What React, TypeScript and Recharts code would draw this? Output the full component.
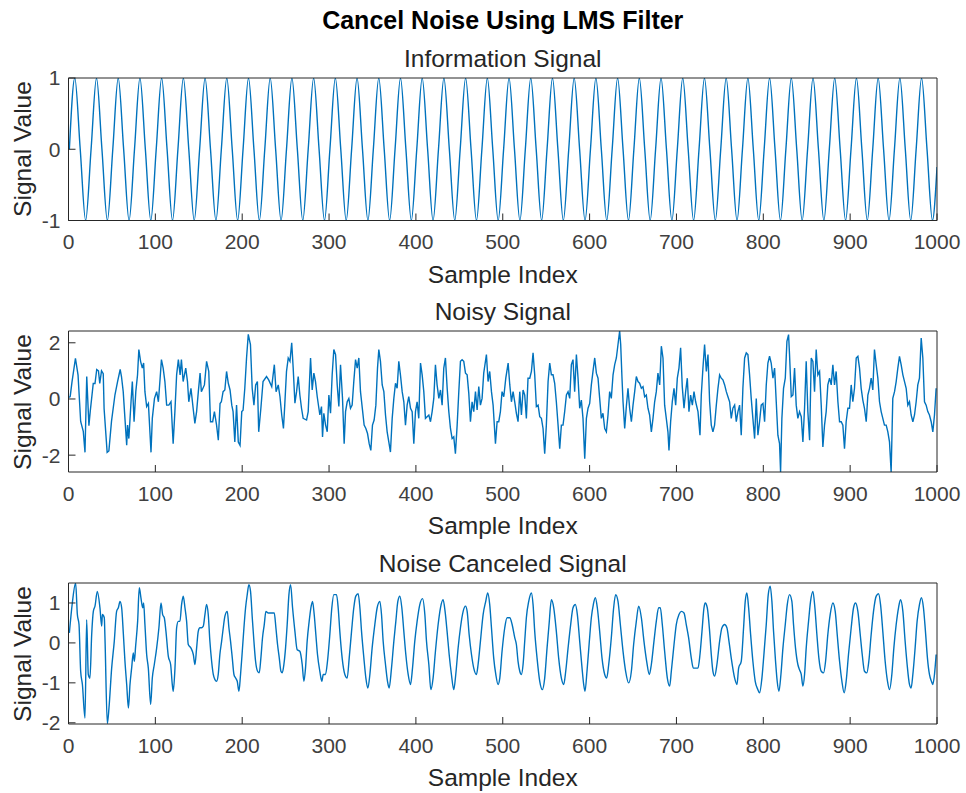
import { LineChart, Line, XAxis, YAxis } from 'recharts';

// sample index vs value
const infoSignal: [number, number][] = [
  [1, 0], [7.25, 1], [13.5, 0], [19.75, -1],
  [26, 0], [32.25, 1], [38.5, 0], [44.75, -1],
  [51, 0], [57.25, 1], [63.5, 0], [69.75, -1],
  [76, 0], [82.25, 1], [88.5, 0], [94.75, -1],
  [101, 0], [107.25, 1], [113.5, 0], [119.75, -1],
  [126, 0], [132.25, 1], [138.5, 0], [144.75, -1],
  [151, 0], [157.25, 1], [163.5, 0], [169.75, -1],
  [176, 0], [182.25, 1], [188.5, 0], [194.75, -1],
  [201, 0], [207.25, 1], [213.5, 0], [219.75, -1],
  [226, 0], [232.25, 1], [238.5, 0], [244.75, -1],
  [251, 0], [257.25, 1], [263.5, 0], [269.75, -1],
  [276, 0], [282.25, 1], [288.5, 0], [294.75, -1],
  [301, 0], [307.25, 1], [313.5, 0], [319.75, -1],
  [326, 0], [332.25, 1], [338.5, 0], [344.75, -1],
  [351, 0], [357.25, 1], [363.5, 0], [369.75, -1],
  [376, 0], [382.25, 1], [388.5, 0], [394.75, -1],
  [401, 0], [407.25, 1], [413.5, 0], [419.75, -1],
  [426, 0], [432.25, 1], [438.5, 0], [444.75, -1],
  [451, 0], [457.25, 1], [463.5, 0], [469.75, -1],
  [476, 0], [482.25, 1], [488.5, 0], [494.75, -1],
  [501, 0], [507.25, 1], [513.5, 0], [519.75, -1],
  [526, 0], [532.25, 1], [538.5, 0], [544.75, -1],
  [551, 0], [557.25, 1], [563.5, 0], [569.75, -1],
  [576, 0], [582.25, 1], [588.5, 0], [594.75, -1],
  [601, 0], [607.25, 1], [613.5, 0], [619.75, -1],
  [626, 0], [632.25, 1], [638.5, 0], [644.75, -1],
  [651, 0], [657.25, 1], [663.5, 0], [669.75, -1],
  [676, 0], [682.25, 1], [688.5, 0], [694.75, -1],
  [701, 0], [707.25, 1], [713.5, 0], [719.75, -1],
  [726, 0], [732.25, 1], [738.5, 0], [744.75, -1],
  [751, 0], [757.25, 1], [763.5, 0], [769.75, -1],
  [776, 0], [782.25, 1], [788.5, 0], [794.75, -1],
  [801, 0], [807.25, 1], [813.5, 0], [819.75, -1],
  [826, 0], [832.25, 1], [838.5, 0], [844.75, -1],
  [851, 0], [857.25, 1], [863.5, 0], [869.75, -1],
  [876, 0], [882.25, 1], [888.5, 0], [894.75, -1],
  [901, 0], [907.25, 1], [913.5, 0], [919.75, -1],
  [926, 0], [932.25, 1], [938.5, 0], [944.75, -1],
  [951, 0], [957.25, 1], [963.5, 0], [969.75, -1],
  [976, 0], [982.25, 1], [988.5, 0], [994.75, -1],
  [1000, -0.25],
];

const noisySignal: [number, number][] = [
  [1, 0.05], [2, 0.1], [4, 0.6], [8, 1.45], [11, 0.85], [14, -0.8], [17, -1.15], [19, -1.9],
  [21, 0.8], [23.5, -0.95], [25, -0.45], [28.5, 0.55], [30.5, 0.55], [32.5, 1.05], [34.5, 1],
  [36, 0.55], [38, 1], [40, 0.9], [41, -0.35], [44.5, -1.9], [46.5, -1.85], [49.5, -0.8],
  [53.5, 0.15], [56.5, 0.62], [59.5, 1.05], [61, 0.8], [63, 0.26], [65, -0.7], [67, -1.65],
  [68, -0.93], [69.5, -1.41], [72, -0.1], [73.5, 0.62], [75.5, -0.81], [77.5, 0.26], [79.5, 0.86],
  [81, 1.76], [83, 1.34], [85, 1.1], [86.5, 1.28], [88, 0.26], [90, -0.27], [92, -0.16], [95, -1.9],
  [96.5, -0.69], [99, 0.02], [101.5, 0.26], [103.5, -0.1], [105.5, 0.74], [107, 1.4], [109, 1.1],
  [111, 0.62], [113, -0.22], [115.5, -0.22], [118, -0.1], [120.5, -1.59], [122.5, -0.45],
  [124.5, 0.86], [126.5, 1.4], [128.5, 0.86], [130, 1.4], [132, 0.62], [135, 1.1], [137, 0.62],
  [138.5, -0.1], [141, 0.38], [143.5, -0.33], [145.5, -0.87], [147.5, -0.45], [149.5, 0.26],
  [151.5, 0.92], [153, 0.26], [156.5, 0.5], [159, 1.34], [161.5, 0.98], [163.5, -0.81], [166, -0.81],
  [168, -0.45], [170.5, -0.93], [172.5, -1.47], [174.5, -0.16], [176, -0.1], [178, 0.26], [180, 0.32],
  [182, 0.98], [184, 0.56], [186, 0.32], [188, -0.22], [189.5, -0.45], [191.5, -1.53], [193.5, -0.22],
  [195.5, -1.53], [197.5, -1.65], [199.5, -0.45], [201, -0.4], [203, 0.38], [205, 1.46], [207, 2.3],
  [209.5, 1.94], [211.5, 0.38], [213.5, -0.22], [215.5, 0.5], [217.5, 0.62], [219, -1.17],
  [221.5, -0.33], [224, 0.62], [228, 0.8], [230.5, 0.68], [234, 0.44], [237, 1.22], [239, 0.26],
  [241.5, 0.5], [243.5, 0.08], [245.5, -0.57], [247.5, -1.05], [249, -0.22], [251, 0.98], [253, 1.46],
  [255, 1.34], [257, 2], [258.7, 1.1], [260.7, -0.15], [262.6, 0.26], [264.5, 0.8], [266.4, 0.14],
  [268.3, -0.33], [270.2, -0.69], [274.1, -0.75], [276, -0.45], [278.7, 1.46], [280.6, 0.32],
  [282.5, 0.92], [284.4, 0.62], [286.4, 0.08], [288.3, -0.33], [289.4, -0.57], [291.3, -0.27],
  [292.5, -1.35], [294, -0.51], [296, -0.93], [297.9, -1.17], [299.8, 0.14], [301.7, -0.51],
  [303.6, 0.86], [305.5, 1.76], [307.5, 1.58], [309.4, 0.5], [311.3, -0.27], [313.2, 1.22],
  [315.5, 0.02], [317.4, -1.59], [319, -0.45], [320.9, -0.1], [322.8, 0.02], [324.7, -0.33],
  [326.6, -0.22], [328.5, 0.62], [330.5, 1.4], [332.4, 1.1], [334.3, 1.46], [336.2, 0.26],
  [338.5, -0.39], [340.4, -0.93], [342.4, -1.05], [344.3, -1.23], [346.2, -1.59], [348.1, -1.83],
  [350, -0.93], [351.9, -0.75], [353.9, -0.22], [355.8, 1.1], [357.3, 1.76], [359.2, 1.34],
  [361.2, 0.5], [363.1, 0.26], [365, -0.57], [366.9, -1.17], [368.8, -1.53], [370.7, -1.89],
  [372.7, -0.69], [374.6, 0.02], [376.5, 0.56], [378.4, 0.38], [380.3, 1.34], [382.2, 0.86],
  [384.2, 0.26], [386.1, -0.1], [388, -0.93], [389.9, -0.22], [391.8, 0.08], [393.8, -0.33],
  [395.7, -0.45], [397.6, -1.59], [399.5, -0.45], [401.4, -0.1], [403.3, -0.69], [405.3, 1.28],
  [407.2, 0.86], [409.1, 0.26], [411, -0.69], [412.9, -0.63], [414.9, -0.57], [416.8, -0.81],
  [418.7, -0.45], [420.6, 0.02], [422.5, 1.22], [424.4, 0.5], [426.4, 0.02], [428.3, 0.32],
  [430.2, -0.22], [432.1, 1.1], [434, 1.46], [436, 0.38], [437.9, -0.45], [439.8, -1.05],
  [441.7, -1.41], [443.6, -1.35], [445.5, -1.95], [447.5, -0.93], [449.4, 0.26], [451.3, 1.34],
  [453.2, 1.4], [455.1, 1.34], [457.1, 0.92], [459, 0.86], [460.9, 0.2], [462.8, -0.81],
  [464.7, -0.1], [466.6, -0.45], [468.6, 0.26], [470.5, -0.39], [472.4, 0.44], [474.3, -0.22],
  [476.2, 0.02], [478.1, 0.92], [481.2, 1.58], [483.1, 0.62], [485, 0.98], [487, 0.26],
  [488.9, -0.22], [491.6, -1.59], [493.5, -0.81], [495.4, -0.81], [497.3, -0.45], [499.2, 0.26],
  [501.2, 0.08], [503.5, 0.74], [506.2, 1.28], [508.1, 0.5], [510, -0.1], [511.9, 0.26],
  [513.8, -0.1], [515.7, -0.51], [517.6, -0.81], [519.6, 0.26], [521.5, -0.57], [523.4, 0.32],
  [525.3, 0.14], [527.2, -0.69], [529.1, 0.74], [531.1, 0.74], [533, 0.98], [534.9, 1.64],
  [536.8, 0.86], [538.7, -0.27], [540.7, -0.22], [542.6, -0.63], [544.5, -0.69], [546.4, -1.05],
  [548.3, -1.95], [550.2, -0.93], [552.2, 0.62], [554.1, 1.28], [556, 0.86], [557.9, 0.86],
  [559.8, 0.56], [561.7, -0.1], [563.7, -0.93], [565.6, -1.77], [567.5, -0.93], [569.4, -0.93],
  [571.3, -0.45], [573.3, 0.14], [575.2, 0.26], [577.1, 0.02], [579, 1.22], [580.9, 1.4],
  [582.8, 0.26], [584.8, 1.58], [586.7, 0.74], [588.6, -0.33], [590.5, -0.04], [592.4, -0.69],
  [594.4, -2.13], [596.3, -0.69], [598.2, -0.33], [600.1, -0.16], [602, 0.5], [603.9, 0.98],
  [605.9, 1.46], [607.8, 0.92], [609.7, 0.74], [611.6, 0.02], [613.5, -0.69], [615.4, -0.51],
  [617.4, -1.05], [619.3, -1.17], [621.2, -0.57], [623.1, 0.26], [625, 0.02], [627, 0.86],
  [628.9, 1.22], [630.8, 1.46], [632.7, 1.94], [634.6, 2.42], [635.8, 1.94], [637.3, 0.74],
  [638.5, -0.1], [640.4, -1.05], [642.3, -0.27], [644.2, 0.38], [646.1, -0.33], [648.1, -0.81],
  [650, -0.22], [651.9, 0.26], [653.8, 0.8], [655.7, 0.62], [657.6, 0.56], [659.6, 0.38],
  [661.5, 0.44], [663.4, 0.08], [665.3, 0.14], [667.2, -0.33], [669.1, -0.57], [671.1, -1.17],
  [673, -0.69], [674.9, -0.1], [676.8, 0.26], [678.7, 0.92], [680.7, 0.5], [682.6, 1.88],
  [684.5, 1.46], [686.4, -0.22], [688.3, -0.69], [690.2, -1.17], [691.4, -1.83], [693.3, -0.81],
  [695.2, -0.1], [697.2, 0.38], [699.1, -0.22], [701, 0.74], [702.9, 1.1], [704.8, 1.82],
  [706.7, 0.44], [708.7, -0.33], [710.6, 0.26], [712.5, 0.74], [714.4, -0.45], [716.3, 0.14],
  [718.3, -0.22], [720.2, 0.26], [722.1, -0.1], [724.8, -0.45], [727.1, -1.29], [728.6, 0.14],
  [730.5, 1.1], [732.4, 1.94], [734.4, 0.98], [736.3, 1.58], [738.2, -0.1], [740.1, -0.93],
  [742, -1.17], [743.9, -0.93], [745.9, -0.22], [747.8, 0.38], [749.7, 0.86], [751.6, 0.74],
  [753.5, 0.68], [755.5, 0.5], [757.4, 0.26], [759.3, 0.08], [761.2, -0.1], [763.1, -0.69],
  [765, -0.33], [767, -0.22], [768.9, -0.81], [770.8, -0.45], [772.7, -0.22], [774.6, -1.29],
  [776.5, 0.38], [778.5, 1.46], [780.4, 1.64], [782.3, 1.58], [784.2, 0.86], [786.1, 0.02],
  [788, -0.69], [790, -1.41], [791.9, 0.02], [793.8, -1.29], [795.7, -0.81], [797.6, -0.22],
  [799.6, -0.16], [801.5, -0.81], [803.4, 0.5], [805.3, 1.28], [807.2, 1.52], [809.1, 1.28],
  [811.1, 0.74], [813, 1.1], [814.9, -0.1], [816.8, -1.29], [818.7, -1.59], [819.9, -2.6],
  [821.4, -0.69], [823.3, 0.38], [825.3, 0.74], [827.2, 2.05], [829.1, 2.29], [830.2, 1.58],
  [832.2, 0.08], [834.1, 0.14], [836, 1.1], [837.9, -0.22], [839.8, -0.69], [841.7, -0.45],
  [843.7, -0.63], [845.6, -1.53], [847.5, -0.33], [849.4, 1.34], [851.3, -0.45], [853.3, -1.47],
  [855.2, 1.46], [857.1, 1.34], [859, 0.26], [860.9, 1.76], [862.8, 0.86], [864.8, 0.98],
  [866.7, -0.22], [868.6, -1.71], [870.5, -0.93], [872.4, -0.45], [874.3, 0.5], [876.3, 0.74],
  [878.2, 0.5], [880.1, 1.22], [882, 0.5], [883.9, 0.98], [885.9, -0.1], [887.8, -0.81],
  [889.7, -0.81], [891.6, -0.93], [893.5, -1.77], [895.4, -0.81], [897.4, -0.33], [899.3, -0.33],
  [901.2, 0.5], [903.1, -0.1], [905, 0.38], [907, 1.46], [908.9, 1.52], [910.8, 1.1],
  [912.7, 0.38], [914.6, -0.04], [916.5, -0.33], [918.5, -0.81], [920.4, 0.14], [922.3, 0.38],
  [924.2, 0.74], [926.1, 0.32], [928, 1.76], [930, 1.22], [931.9, 0.74], [933.8, -0.1],
  [935.7, -0.45], [937.6, -0.69], [939.5, -0.93], [941.5, -0.93], [943.4, -1.17], [945.3, -1.53],
  [947.2, -2.6], [949.1, 0.02], [951.1, 0.26], [953, 0.62], [954.9, 1.1], [956.8, 1.52],
  [958.7, 1.22], [960.7, 0.86], [962.6, 0.62], [964.5, 0.38], [966.4, -0.22], [968.3, -0.1],
  [970.2, -0.57], [972.2, -0.81], [974.1, -0.57], [976, -0.1], [977.9, 0.5], [979.8, 0.74],
  [981.8, 2.17], [983.7, 1.46], [985.6, -0.1], [987.5, -0.22], [989.4, -0.45], [991.3, -0.57],
  [993.3, -0.81], [995.2, -1.17], [997.1, -0.57], [999, 0.38],
];

const canceledSignal: [number, number][] = [
  [1, 0.25], [4.4, 1], [8.2, 1.5], [10.2, 0.71], [12.1, 0.46], [14, -0.71], [16, -1.04], [19, -1.88],
  [20.9, 0.58], [22.8, -0.79], [24.7, -0.88], [26.7, 0.21], [28.6, 0.79], [30.5, 0.92], [33.2, 1.29],
  [36.2, 0.88], [38.2, 0.42], [39, 0.71], [41.2, 0.63], [42, 0.12], [44.7, -2.02], [46.6, -1.63],
  [49.7, -0.63], [52.7, 0.04], [55.4, 0.79], [57.4, 0.88], [59.3, 1.04], [61.2, 0.88], [63.1, 0.25],
  [65, -0.46], [67, -1.04], [69, -1.63], [70.8, -1.04], [72.7, -0.63], [74.6, -0.25], [75.8, -0.46],
  [77.3, -0.08], [79.6, 0.54], [81.5, 1.38], [83.4, 1.13], [85.4, 0.88], [86.5, 1], [88, 0.46],
  [90, -0.29], [91.9, -0.63], [94.6, -1.54], [96.5, -0.88], [98.8, -0.54], [101.5, -0.13],
  [104.1, 0.38], [106.5, 1], [108.4, 0.71], [110.3, 0.63], [112.2, 0.29], [114.9, -0.33],
  [117.6, -0.54], [119.5, -1.04], [120.6, -1.21], [122.6, -0.63], [124.5, 0.38], [126.4, 0.54],
  [128.3, 0.54], [130.2, 0.96], [132.1, 1.17], [134.1, 0.88], [136, 0.54], [137.9, -0.04],
  [141, -0.13], [143.7, -0.29], [145.6, -0.54], [147.5, -0.13], [149.4, 0.29], [151.3, 0.38],
  [153.2, 0.38], [155.2, 0.42], [157.1, 0.71], [159, 0.96], [160.9, 0.71], [162.8, 0.04],
  [164.8, -0.46], [166.7, -0.79], [168.6, -0.92], [170.5, -0.96], [172.4, -0.79], [174.3, -0.29],
  [176.3, 0.04], [178.2, 0.38], [180.1, 0.67], [182.8, 0.79], [184.7, 0.38], [186.6, 0.04],
  [188.6, -0.38], [190.5, -0.79], [192.4, -0.88], [194.3, -0.96], [196.2, -1.21], [198.1, -0.79],
  [200.1, -0.21], [202, 0.38], [203.9, 0.88], [205.8, 1.21], [207.7, 1.46], [209.6, 1.29],
  [211.6, 0.63], [213.5, 0.04], [215.4, -0.46], [217.7, -0.71], [219.6, -0.75], [221.5, -0.38],
  [223.4, 0.13], [225.4, 0.46], [227.3, 0.79], [230, 0.75], [233.8, 0.75], [236.9, 0.75],
  [238.8, 0.38], [240.7, -0.04], [242.7, -0.38], [244.6, -0.71], [246.1, -0.75], [248, -0.54],
  [249.9, -0.13], [251.8, 0.46], [253.8, 1.21], [255.7, 1.46], [258, 0.88], [260.7, 0.29],
  [263.3, -0.17], [266.4, -0.21], [269.1, -0.54], [271, -0.96], [272.9, -0.63], [274.8, 0.04],
  [277.1, 0.54], [279.1, 0.88], [281, 1.04], [282.9, 0.71], [284.8, 0.21], [286.7, -0.29],
  [289.4, -0.71], [291.7, -0.96], [293.3, -0.79], [295.9, -0.79], [298.2, -0.46], [300.9, 0.21],
  [303.2, 0.88], [305.5, 1.21], [308.6, 1.21], [310.5, 0.88], [312.4, 0.29], [315.1, -0.38],
  [318.2, -0.79], [320.9, -0.88], [323.2, -0.38], [325.9, 0.29], [328.5, 0.88], [330.8, 1.17],
  [333.5, 1.23], [335.5, 0.88], [337.4, 0.29], [340.1, -0.38], [342.4, -0.88], [344.7, -1.13],
  [347, -0.79], [349.6, -0.13], [352.7, 0.46], [355.4, 0.88], [358.5, 1.04], [360.4, 0.71],
  [362.3, 0.04], [365, -0.54], [367.3, -0.96], [369.2, -1.13], [371.9, -0.63], [374.6, 0.04],
  [376.9, 0.54], [379.2, 1.04], [381.5, 1.17], [383.8, 0.88], [386.1, 0.29], [388.4, -0.29],
  [391.1, -0.79], [393.8, -1.04], [396.1, -0.63], [398.7, 0.04], [401.4, 0.54], [404.5, 0.96],
  [407.6, 1.11], [410.3, 0.71], [412.2, 0.04], [414.9, -0.54], [417.2, -1.17], [419.8, -0.88],
  [422.5, -0.21], [425.6, 0.46], [428.3, 0.88], [431.3, 1.08], [433.6, 0.79], [435.9, 0.29],
  [438.3, -0.29], [440.9, -0.79], [443.6, -1.17], [445.9, -0.79], [448.6, -0.13], [451.3, 0.38],
  [454.4, 0.79], [457.1, 0.92], [459, 0.79], [461.3, 0.21], [464, -0.29], [466.6, -0.63],
  [469.7, -0.79], [471.6, -0.54], [474.3, 0.04], [477.4, 0.71], [480.4, 1.04], [482.7, 1.25],
  [485, 0.96], [487, 0.38], [489.6, -0.38], [492, -0.79], [494.6, -1.04], [496.6, -0.88],
  [499.2, -0.21], [502.3, 0.38], [505, 0.63], [508.1, 0.63], [510.8, 0.46], [513.8, 0.13],
  [515.7, -0.04], [517.6, -0.46], [519.6, -0.71], [521.5, -0.79], [523.4, -0.54], [525.3, 0.04],
  [527.2, 0.63], [529.9, 1.04], [533, 1.25], [534.9, 0.96], [536.8, 0.29], [539.5, -0.38],
  [542.6, -0.96], [545.6, -1.17], [548.3, -0.88], [551, -0.13], [553.3, 0.46], [556, 1.08],
  [558.7, 0.88], [561.7, 0.29], [564.4, -0.38], [567.5, -0.88], [570.2, -1.04], [572.5, -0.71],
  [575.2, -0.13], [578.2, 0.46], [580.9, 0.88], [583.6, 0.96], [585.9, 0.71], [588.6, 0.04],
  [591.3, -0.63], [593.2, -1.04], [594.7, -1.21], [597, -0.71], [599.7, 0.04], [602, 0.63],
  [604.3, 0.96], [606.6, 1.13], [608.9, 0.88], [611.6, 0.29], [614.3, -0.38], [617.4, -0.79],
  [619.7, -0.88], [622, -0.54], [625, 0.13], [627.7, 0.88], [630, 1.21], [632.7, 1.04],
  [635.4, 0.46], [638.5, -0.21], [641.5, -0.71], [645, -1], [648.1, -0.71], [650.7, -0.04],
  [653.8, 0.54], [656.5, 0.92], [659.6, 0.63], [662.6, 0.04], [665.7, -0.46], [668.8, -0.79],
  [671.1, -0.54], [674.1, 0.04], [676.8, 0.54], [679.5, 0.88], [681.4, 0.88], [683.7, 0.46],
  [686.4, -0.21], [689.5, -0.88], [692.2, -1.08], [694.1, -0.71], [697.2, -0.04], [699.8, 0.46],
  [702.9, 0.71], [705.6, 0.79], [708.7, 0.75], [711.3, 0.46], [714, 0.13], [717.1, -0.38],
  [719.4, -0.63], [722.9, -0.63], [724.8, -0.63], [727.1, -0.29], [729.4, 0.29], [731.7, 0.88],
  [733.2, 1], [735.5, 0.88], [738.2, 0.29], [740.1, -0.29], [742, -0.71], [744, -0.83],
  [746.6, -0.54], [749.7, 0.04], [752.4, 0.38], [755.5, 0.46], [758.1, 0.38], [760.5, 0.04],
  [763.1, -0.38], [767, -0.88], [769.7, -1.04], [771.6, -0.63], [774.6, -0.46], [777.3, 0.38],
  [779.2, 1.04], [781.1, 1.25], [783.1, 0.88], [785.4, 0.21], [788, -0.46], [790.7, -0.96],
  [793.8, -1.17], [795.7, -1.25], [798.4, -0.88], [800.7, -0.29], [803.4, 0.46], [805.7, 1.21],
  [808, 1.42], [809.9, 1.04], [811.8, 0.29], [814.1, -0.46], [816, -0.96], [818, -1.21],
  [820.3, -0.79], [822.6, -0.13], [825.3, 0.46], [827.6, 0.96], [830.2, 1.21], [832.9, 1.04],
  [834.8, 0.46], [837.1, -0.13], [839.8, -0.54], [841.7, -0.67], [843.7, -0.79], [845.6, -1.08],
  [847.5, -0.79], [849.4, -0.13], [852.1, 0.54], [854.4, 1.04], [857.1, 1.29], [859.4, 0.88],
  [861.7, 0.21], [864, -0.38], [866.7, -0.71], [869.4, -0.75], [871.7, -0.46], [874.3, 0.21],
  [877, 0.71], [880.1, 1], [882.8, 0.79], [885.1, 0.21], [887.8, -0.46], [890.5, -0.96],
  [893.1, -1.25], [895.4, -0.96], [898.1, -0.29], [901.2, 0.38], [903.9, 0.88], [906.2, 1],
  [908.9, 0.79], [911.6, 0.21], [913.9, -0.29], [916.5, -0.71], [919.2, -0.75], [921.5, -0.46],
  [924.2, 0.21], [926.9, 0.79], [930, 1.17], [932.7, 1.23], [935, 0.96], [937.6, 0.29],
  [940.3, -0.46], [943, -0.96], [945.3, -1.17], [948, -0.79], [950.3, -0.13], [953, 0.46],
  [955.7, 0.88], [958, 1.08], [960.7, 0.79], [963.3, 0.04], [965.6, -0.54], [968.3, -1.04],
  [970.2, -1.13], [972.2, -0.79], [974.8, -0.13], [977.1, 0.54], [979.8, 0.96], [982.1, 1.13],
  [984.4, 0.88], [986.7, 0.29], [989, -0.38], [991.3, -0.79], [993.6, -0.96], [995.2, -1.04],
  [997.1, -0.79], [999, -0.29],
];

const xTicks = [0, 100, 200, 300, 400, 500, 600, 700, 800, 900, 1000];
const infoTicks = [-1, 0, 1];
const noisyTicks = [-2, 0, 2];
const canceledTicks = [-2, -1, 0, 1];

const BLUE = '#0072BD';
const AXIS = '#262626';
const FONT = '"Liberation Sans", Arial, Helvetica, sans-serif';
const W = 966;
const LABEL_SIZE = 24.5;

type PanelProps = {
  title: string;
  top: number;
  height: number;
  series: [number, number][];
  yDomain: [number, number];
  yTicks: number[];
  curve: 'monotone' | 'linear';
};

function Panel({ title, top, height, series, yDomain, yTicks, curve }: PanelProps) {
  const data = series.map(([x, y]) => ({ x, y }));
  const tickStyle = { fill: '#404040', fontSize: 21, fontFamily: FONT };
  return (
    <>
      <div style={{ position: 'absolute', left: 502.75, top: top - 19, transform: 'translate(-50%, -50%)', fontSize: LABEL_SIZE, color: AXIS, whiteSpace: 'nowrap' }}>
        {title}
      </div>
      <div style={{ position: 'absolute', left: 502.75, top: top + height + 54, transform: 'translate(-50%, -50%)', fontSize: LABEL_SIZE, color: AXIS, whiteSpace: 'nowrap' }}>
        Sample Index
      </div>
      <div style={{ position: 'absolute', left: 23, top: top + height / 2, transform: 'translate(-50%, -50%) rotate(-90deg)', fontSize: LABEL_SIZE, color: AXIS, whiteSpace: 'nowrap' }}>
        Signal Value
      </div>
      <div style={{ position: 'absolute', left: 0, top: top - 20 }}>
        <LineChart width={W} height={height + 60} data={data} margin={{ top: 19, right: 28, bottom: 0, left: 28.5 }}>
          <XAxis
            dataKey="x"
            type="number"
            domain={[0, 1000]}
            ticks={xTicks}
            interval={0}
            allowDataOverflow
            height={40}
            stroke={AXIS}
            tickSize={-7}
            tickMargin={21}
            tick={tickStyle}
          />
          <XAxis
            xAxisId="top"
            orientation="top"
            type="number"
            domain={[0, 1000]}
            ticks={xTicks}
            interval={0}
            height={1}
            stroke={AXIS}
            tickSize={-7}
            tick={false}
          />
          <YAxis
            type="number"
            domain={yDomain}
            ticks={yTicks}
            interval={0}
            allowDataOverflow
            width={40}
            stroke={AXIS}
            tickSize={-7}
            tickMargin={15}
            tick={tickStyle}
          />
          <YAxis
            yAxisId="right"
            orientation="right"
            type="number"
            domain={yDomain}
            ticks={yTicks}
            interval={0}
            width={1}
            stroke={AXIS}
            tickSize={-7}
            tick={false}
          />
          <Line
            type={curve}
            dataKey="y"
            stroke={BLUE}
            strokeWidth={1.4}
            dot={false}
            isAnimationActive={false}
          />
        </LineChart>
      </div>
    </>
  );
}

export default function App() {
  return (
    <div style={{ position: 'absolute', left: 0, top: 0, width: W, height: 793, background: '#fff', fontFamily: FONT }}>
      <div style={{ position: 'absolute', left: 502.75, top: 20, transform: 'translate(-50%, -50%)', fontSize: 25, fontWeight: 'bold', color: '#000', whiteSpace: 'nowrap' }}>
        Cancel Noise Using LMS Filter
      </div>
      <Panel title="Information Signal" top={78} height={142.5} series={infoSignal} yDomain={[-1, 1]} yTicks={infoTicks} curve="monotone" />
      <Panel title="Noisy Signal" top={331} height={141} series={noisySignal} yDomain={[-2.6, 2.42]} yTicks={noisyTicks} curve="linear" />
      <Panel title="Noise Canceled Signal" top={583.3} height={141} series={canceledSignal} yDomain={[-2.03, 1.5]} yTicks={canceledTicks} curve="monotone" />
    </div>
  );
}
